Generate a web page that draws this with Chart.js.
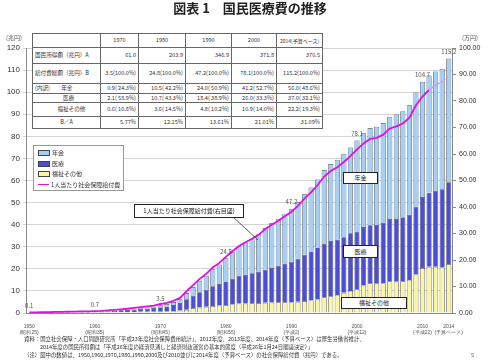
<!DOCTYPE html>
<html>
<head>
<meta charset="utf-8">
<script src="https://cdn.jsdelivr.net/npm/chart.js@4.4.1/dist/chart.umd.min.js"></script>
<style>
    body { margin: 0; width: 500px; height: 361px; position: relative; overflow: hidden; background: #fff;
           font-family: 'Noto Sans CJK JP', 'Noto Sans', sans-serif; color: #333; }
    #c { position: absolute; left: 0; top: 0; }
    .abs { position: absolute; white-space: nowrap; }
    #title { left: 0; width: 500px; top: 0; text-align: center; font-size: 13px; font-weight: bold; color: #222; line-height: 16px; }
    .unit { font-size: 6px; color: #555; top: 33px; }
    #tbl { position: absolute; left: 32px; top: 33px; border-collapse: collapse; table-layout: fixed;
           background: #fff; font-size: 5.6px; color: #333; border: 1.2px solid #444; }
    #tbl td { border: 0.8px solid #666; padding: 0 2px; line-height: 7px; white-space: nowrap; overflow: hidden; }
    #tbl td.num { text-align: right; }
    #tbl tr.head td { text-align: center; }
    #legend { left: 33px; top: 145px; width: 89px; height: 44px; border: 1px solid #999; background: #fff; font-size: 6px; }
    .li { position: absolute; left: 4px; height: 8px; line-height: 8px; }
    .sw { display: inline-block; width: 10px; height: 4px; border: 0.8px solid #444; vertical-align: middle; margin-right: 2px; }
    .ln { display: inline-block; width: 11px; height: 0; border-top: 1.6px solid #e010e0; vertical-align: middle; margin-right: 2px; }
    .box { background: #fff; border: 1px solid #222; font-size: 6px; text-align: center; color: #222; }
    .note { font-size: 5.4px; color: #333; left: 24px; }
</style>
</head>
<body>
<canvas id="c" width="500" height="361"></canvas>
<div class="abs" id="title">図表 1　国民医療費の推移</div>
<div class="abs unit" style="left:6px;">(兆円)</div>
<div class="abs unit" style="left:462px;">(万円)</div>
<table id="tbl"></table>
<div class="abs" id="legend"></div>
<div class="abs box" style="left:134px; top:204px; width:108px; height:12px; line-height:12px;">1人当たり社会保障給付費(右目盛)</div>
<svg class="abs" style="left:0; top:0;" width="500" height="361"><line x1="233" y1="217" x2="258" y2="240" stroke="#333" stroke-width="0.8"/></svg>
<div class="abs box" style="left:343px; top:172px; width:33px; height:10px; line-height:10px;">年金</div>
<div class="abs box" style="left:343px; top:245px; width:33px; height:11px; line-height:11px;">医療</div>
<div class="abs box" style="left:341px; top:297px; width:64px; height:10px; line-height:10px;">福祉その他</div>
<div class="abs note" style="top:335px;">資料：国立社会保障・人口問題研究所「平成23年度社会保障費用統計」、2012年度、2013年度、2014年度（予算ベース）は厚生労働省推計、</div>
<div class="abs note" style="top:343px; left:40px;">2014年度の国民所得額は「平成26年度の経済見通しと経済財政運営の基本的態度（平成26年1月24日閣議決定）」</div>
<div class="abs note" style="top:351px;">（注）図中の数値は、1950,1960,1970,1980,1990,2000及び2010並びに2014年度（予算ベース）の社会保障給付費（兆円）である。</div>
<div class="abs" style="left:471px; top:351px; font-size:5.5px; color:#555;">5</div>

<script>
// fiscal years 1950 - 2014
const years = [1950, 1951, 1952, 1953, 1954, 1955, 1956, 1957, 1958, 1959,
    1960, 1961, 1962, 1963, 1964, 1965, 1966, 1967, 1968, 1969,
    1970, 1971, 1972, 1973, 1974, 1975, 1976, 1977, 1978, 1979,
    1980, 1981, 1982, 1983, 1984, 1985, 1986, 1987, 1988, 1989,
    1990, 1991, 1992, 1993, 1994, 1995, 1996, 1997, 1998, 1999,
    2000, 2001, 2002, 2003, 2004, 2005, 2006, 2007, 2008, 2009,
    2010, 2011, 2012, 2013, 2014];

// 兆円
const pension = [0.00, 0.01, 0.01, 0.02, 0.03, 0.04, 0.05, 0.06, 0.07, 0.09,
    0.11, 0.13, 0.15, 0.17, 0.20, 0.25, 0.31, 0.38, 0.47, 0.60,
    0.86, 1.04, 1.31, 1.73, 2.77, 3.88, 5.25, 6.40, 7.70, 8.90,
    10.5, 11.9, 13.3, 14.5, 15.6, 16.9, 18.9, 20.3, 21.2, 22.6,
    24.0, 25.5, 27.4, 28.9, 30.8, 33.5, 34.9, 36.1, 37.8, 38.9,
    41.2, 42.5, 44.1, 44.5, 45.3, 46.3, 47.3, 48.0, 49.5, 51.7,
    52.2, 53.0, 53.9, 54.6, 56.0];
const medical = [0.06, 0.07, 0.10, 0.14, 0.16, 0.19, 0.20, 0.22, 0.26, 0.29,
    0.27, 0.38, 0.48, 0.62, 0.79, 0.92, 1.09, 1.26, 1.47, 1.68,
    2.06, 2.29, 2.78, 3.39, 4.76, 5.71, 6.84, 7.70, 8.90, 9.70,
    10.7, 11.7, 12.5, 13.1, 13.6, 14.3, 15.0, 15.7, 16.6, 17.5,
    18.4, 19.5, 21.0, 22.2, 23.6, 24.1, 25.0, 25.1, 25.1, 26.1,
    26.0, 26.5, 26.1, 26.5, 27.3, 28.2, 28.4, 28.9, 29.6, 30.8,
    32.1, 33.6, 34.6, 35.4, 37.0];
const welfare = [0.07, 0.08, 0.11, 0.14, 0.15, 0.16, 0.16, 0.17, 0.19, 0.20,
    0.27, 0.28, 0.31, 0.35, 0.40, 0.43, 0.48, 0.52, 0.57, 0.61,
    0.60, 0.70, 0.84, 1.12, 1.49, 2.21, 2.51, 2.80, 3.20, 3.40,
    3.6, 3.9, 4.3, 4.3, 4.4, 4.5, 4.6, 4.7, 4.9, 4.9,
    4.8, 5.1, 5.4, 5.7, 6.1, 7.1, 7.6, 8.2, 9.2, 10.0,
    10.9, 12.4, 13.6, 13.3, 13.4, 14.4, 14.2, 14.5, 15.0, 17.4,
    20.4, 20.9, 20.9, 20.6, 22.2];

// 万円 (right axis)
const perCapita = [0.2, 0.2, 0.3, 0.3, 0.4, 0.4, 0.5, 0.5, 0.6, 0.6,
    0.7, 0.8, 1.0, 1.2, 1.4, 1.6, 1.9, 2.2, 2.5, 2.8,
    3.4, 3.8, 4.6, 5.7, 8.2, 10.5, 12.9, 14.8, 17.2, 18.9,
    21.2, 23.3, 25.3, 26.7, 28.0, 29.5, 31.7, 33.3, 34.8, 36.5,
    38.2, 40.4, 43.2, 45.5, 48.3, 51.5, 53.6, 55.0, 57.0, 59.2,
    61.7, 64.0, 65.7, 66.1, 67.3, 69.6, 70.4, 71.5, 73.7, 78.4,
    81.7, 84.2, 85.9, 87.4, 89.6];

const tickYears = [1950, 1960, 1970, 1980, 1990, 2000, 2010, 2014];
const tickEras = ['(昭和25)', '(昭和35)', '(昭和45)', '(昭和55)', '(平成2)', '(平成12)', '(平成22)', '(予算ベース)'];
const labelYears = [1950, 1960, 1970, 1980, 1990, 2000, 2010, 2014];
const labelTexts = ['0.1', '0.7', '3.5', '24.8', '47.2', '78.1', '104.7', '115.2'];

const tableHead = ['', '1970', '1980', '1990', '2000', '2014(予算ベース)'];
const tableRows = [
    ['国民所得額（兆円）A', '61.0', '203.9', '346.9', '371.8', '370.5'],
    ['給付費総額（兆円）B', '3.5(100.0%)', '24.8(100.0%)', '47.2(100.0%)', '78.1(100.0%)', '115.2(100.0%)'],
    ['(内訳)　　年金', '0.9( 24.3%)', '10.5( 42.2%)', '24.0( 50.9%)', '41.2( 52.7%)', '56.0( 48.6%)'],
    ['　　　　　医療', '2.1( 58.9%)', '10.7( 43.3%)', '18.4( 38.9%)', '26.0( 33.3%)', '37.0( 32.1%)'],
    ['　　　　福祉その他', '0.6( 16.8%)', '3.6( 14.5%)', '4.8( 10.2%)', '10.9( 14.0%)', '22.2( 19.3%)'],
    ['B／A', '5.77%', '12.15%', '13.61%', '21.01%', '31.09%']
];

const colors = {
    pension: '#a3d0f4',
    medical: '#4b4fd8',
    welfare: '#fbf6a0',
    line: '#e010e0',
    lineEst: '#e88ae8'
};

// table overlay
const colW = [68, 38, 47, 46, 45, 46];
const rowH = [14, 16, 20, 10, 9, 14, 12];
function buildTable() {
    const tbl = document.getElementById('tbl');
    let html = '<colgroup>' + colW.map(w => `<col style="width:${w}px">`).join('') + '</colgroup>';
    html += `<tr class="head" style="height:${rowH[0]}px">` + tableHead.map((t, i) =>
        `<td style="${i === 5 ? 'padding:0;font-size:5px;' : ''}">${t}</td>`).join('') + '</tr>';
    tableRows.forEach((row, r) => {
        html += `<tr style="height:${rowH[r + 1]}px">` + row.map((t, i) => {
            if (i === 0) return `<td style="text-align:${r === 5 ? 'center' : 'left'}">${t}</td>`;
            return `<td class="num">${t}</td>`;
        }).join('') + '</tr>';
    });
    tbl.innerHTML = html;
}

function buildLegend() {
    const items = [
        { name: '年金', color: colors.pension },
        { name: '医療', color: colors.medical },
        { name: '福祉その他', color: colors.welfare },
        { name: '1人当たり社会保障給付費', line: true }
    ];
    const legend = document.getElementById('legend');
    items.forEach((it, i) => {
        const d = document.createElement('div');
        d.className = 'li';
        d.style.top = (3 + i * 10.5) + 'px';
        d.innerHTML = it.line
            ? `<span class="ln"></span>${it.name}`
            : `<span class="sw" style="background:${it.color}"></span>${it.name}`;
        legend.appendChild(d);
    });
}

// value labels above selected bars
const valueLabels = {
    id: 'valueLabels',
    afterDatasetsDraw(chart) {
        const { ctx, scales } = chart;
        ctx.save();
        ctx.font = '6px "Noto Sans CJK JP", sans-serif';
        ctx.fillStyle = '#555';
        ctx.textAlign = 'center';
        ctx.textBaseline = 'bottom';
        labelYears.forEach((yr, k) => {
            const i = years.indexOf(yr);
            const total = pension[i] + medical[i] + welfare[i];
            const x = scales.x.getPixelForValue(i);
            const y = scales.y.getPixelForValue(total);
            ctx.fillText(labelTexts[k], x, y - 4);
        });
        ctx.restore();
    }
};

const barStyle = { borderColor: '#4a4a5a', borderWidth: 0.7, barPercentage: 0.78, categoryPercentage: 1, stack: 's', order: 1 };

new Chart(document.getElementById('c').getContext('2d'), {
    data: {
        labels: years,
        datasets: [
            {
                type: 'line',
                label: '1人当たり社会保障給付費',
                data: perCapita,
                yAxisID: 'y2',
                borderColor: colors.line,
                borderWidth: 1.8,
                pointRadius: 0,
                tension: 0,
                order: 0,
                segment: {
                    borderDash: c => c.p0DataIndex >= 61 ? [2, 1.5] : undefined,
                    borderColor: c => c.p0DataIndex >= 61 ? colors.lineEst : undefined
                }
            },
            { type: 'bar', label: '福祉その他', data: welfare, backgroundColor: colors.welfare, ...barStyle },
            { type: 'bar', label: '医療', data: medical, backgroundColor: colors.medical, ...barStyle },
            { type: 'bar', label: '年金', data: pension, backgroundColor: colors.pension, ...barStyle }
        ]
    },
    options: {
        responsive: false,
        animation: false,
        layout: { padding: { top: 48, left: 0, right: 0, bottom: 0 } },
        plugins: { legend: { display: false }, tooltip: { enabled: false } },
        scales: {
            x: {
                stacked: true,
                offset: true,
                grid: { display: false },
                border: { color: '#888' },
                ticks: {
                    autoSkip: false,
                    maxRotation: 0,
                    padding: 3,
                    color: '#555',
                    font: { size: 5, lineHeight: 1.2 },
                    callback: function(value, index) {
                        const k = tickYears.indexOf(years[index]);
                        return k >= 0 ? [String(tickYears[k]), tickEras[k]] : '';
                    }
                },
                afterFit: s => { s.height = 48; }
            },
            y: {
                stacked: true,
                position: 'left',
                min: 0,
                max: 120,
                ticks: { stepSize: 10, color: '#333', font: { size: 8 }, padding: 3 },
                grid: { color: '#c8c8c8', lineWidth: 0.8, tickLength: 3 },
                border: { color: '#888' },
                afterFit: s => { s.width = 26; }
            },
            y2: {
                position: 'right',
                min: 0,
                max: 100,
                ticks: { stepSize: 10, color: '#333', font: { size: 7 }, padding: 3,
                    callback: v => v.toFixed(2) },
                grid: { drawOnChartArea: false, tickLength: 4, color: '#888' },
                border: { color: '#888' },
                afterFit: s => { s.width = 48; }
            }
        }
    },
    plugins: [valueLabels]
});

buildTable();
buildLegend();
</script>
</body>
</html>
